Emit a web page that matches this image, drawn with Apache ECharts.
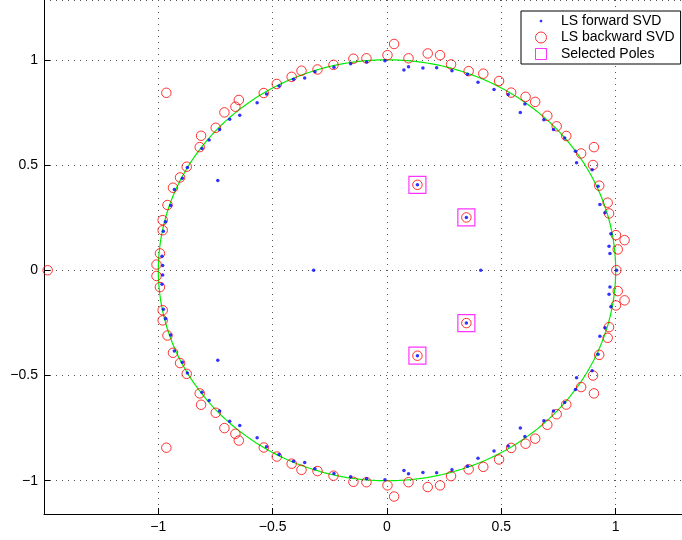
<!DOCTYPE html>
<html><head><meta charset="utf-8">
<script src="https://cdn.jsdelivr.net/npm/echarts@6/dist/echarts.min.js"></script>
<style>html,body{margin:0;padding:0;background:#fff}#c{width:682px;height:540px}</style>
</head><body><div id="c"></div>
<script>
const forwardUpper = [
  [0.975,0.080],[0.971,0.114],[0.979,0.173],[0.953,0.273],[0.931,0.313],[0.923,0.399],[0.897,0.478],
  [0.829,0.511],[0.824,0.566],[0.777,0.628],[0.728,0.669],[0.686,0.715],[0.603,0.790],[0.583,0.750],
  [0.530,0.835],[0.468,0.859],[0.398,0.893],[0.352,0.931],[0.284,0.948],[0.217,0.962],[0.157,0.961],
  [0.094,0.967],[0.074,0.951],[-0.009,0.995],[-0.089,0.990],[-0.159,0.981],[-0.232,0.965],[-0.315,0.943],
  [-0.360,0.913],[-0.409,0.907],[-0.472,0.875],[-0.527,0.838],[-0.568,0.796],[-0.644,0.737],[-0.688,0.717],
  [-0.732,0.669],[-0.778,0.619],[-0.809,0.579],[-0.873,0.488],[-0.895,0.437],[-0.930,0.384],[-0.946,0.308],
  [-0.969,0.230],[-0.978,0.185],[-0.984,0.067],[-0.981,0.023],[-0.740,0.427]
];
const forwardLower = [
  [0.975,-0.080],[0.971,-0.114],[0.979,-0.173],[0.953,-0.273],[0.931,-0.313],[0.923,-0.399],[0.897,-0.478],
  [0.829,-0.511],[0.824,-0.566],[0.777,-0.628],[0.728,-0.669],[0.686,-0.715],[0.603,-0.790],[0.583,-0.750],
  [0.530,-0.835],[0.468,-0.859],[0.398,-0.893],[0.352,-0.931],[0.284,-0.948],[0.217,-0.962],[0.157,-0.961],
  [0.094,-0.967],[0.074,-0.951],[-0.009,-0.995],[-0.089,-0.990],[-0.159,-0.981],[-0.232,-0.965],[-0.315,-0.943],
  [-0.360,-0.913],[-0.409,-0.907],[-0.472,-0.875],[-0.527,-0.838],[-0.568,-0.796],[-0.644,-0.737],[-0.688,-0.717],
  [-0.732,-0.669],[-0.778,-0.619],[-0.809,-0.579],[-0.873,-0.488],[-0.895,-0.437],[-0.930,-0.384],[-0.946,-0.308],
  [-0.969,-0.230],[-0.978,-0.185],[-0.984,-0.067],[-0.981,-0.023],[-0.740,-0.427]
];
const forwardReal = [[1.004,0],[-0.321,0],[0.410,0]];

const backwardUpper = [
  [1.009,0.099],[1.039,0.143],[1.001,0.167],[0.971,0.270],[0.965,0.321],[0.928,0.402],[0.901,0.500],
  [0.905,0.585],[0.849,0.555],[0.784,0.638],[0.742,0.684],[0.701,0.734],[0.648,0.800],[0.606,0.824],
  [0.543,0.844],[0.490,0.899],[0.421,0.934],[0.357,0.946],[0.280,0.978],[0.232,1.022],[0.178,1.030],
  [0.094,1.007],[0.031,1.075],[0.002,1.022],[-0.090,1.007],[-0.147,1.005],[-0.234,0.976],[-0.304,0.954],
  [-0.374,0.948],[-0.417,0.919],[-0.482,0.885],[-0.539,0.842],[-0.648,0.809],[-0.663,0.777],[-0.711,0.750],
  [-0.749,0.677],[-0.813,0.639],[-0.819,0.585],[-0.876,0.492],[-0.905,0.441],[-0.936,0.392],[-0.960,0.310],
  [-0.981,0.238],[-0.981,0.190],[-0.993,0.080],[-1.008,0.027],[-0.965,0.843]
];
const backwardLower = [
  [1.009,-0.099],[1.039,-0.143],[1.001,-0.167],[0.971,-0.270],[0.965,-0.321],[0.928,-0.402],[0.901,-0.500],
  [0.905,-0.585],[0.849,-0.555],[0.784,-0.638],[0.742,-0.684],[0.701,-0.734],[0.648,-0.800],[0.606,-0.824],
  [0.543,-0.844],[0.490,-0.899],[0.421,-0.934],[0.357,-0.946],[0.280,-0.978],[0.232,-1.022],[0.178,-1.030],
  [0.094,-1.007],[0.031,-1.075],[0.002,-1.022],[-0.090,-1.007],[-0.147,-1.005],[-0.234,-0.976],[-0.304,-0.954],
  [-0.374,-0.948],[-0.417,-0.919],[-0.482,-0.885],[-0.539,-0.842],[-0.648,-0.809],[-0.663,-0.777],[-0.711,-0.750],
  [-0.749,-0.677],[-0.813,-0.639],[-0.819,-0.585],[-0.876,-0.492],[-0.905,-0.441],[-0.936,-0.392],[-0.960,-0.310],
  [-0.981,-0.238],[-0.981,-0.190],[-0.993,-0.080],[-1.008,-0.027],[-0.965,-0.843]
];
const backwardReal = [[1.003,0],[-1.484,0]];

const selectedPoles = [[0.133,0.406],[0.133,-0.406],[0.347,0.251],[0.347,-0.251]];

const seriesNames = ['LS forward SVD','LS backward SVD','Selected Poles'];

// unit circle reference (exact geometric curve)
const unitCircleSteps = 360;
const unitCircle = [];
for (let k = 0; k <= unitCircleSteps; k++) {
  const t = 2 * Math.PI * k / unitCircleSteps;
  unitCircle.push([Math.cos(t), Math.sin(t)]);
}

const FONT = "'Liberation Sans', Arial, Helvetica, sans-serif";
const fmt = v => (v < 0 ? '\u2212' : '') + String(Math.abs(v));
const dotted = {show:true, lineStyle:{color:'#555', width:1, type:[1,5]}};

const chart = echarts.init(document.getElementById('c'), null, {renderer:'canvas'});
chart.setOption({
  animation:false,
  backgroundColor:'#fff',
  grid:{left:44, right:0, top:0, bottom:26},
  xAxis:{
    type:'value', min:-1.5, max:1.29, splitNumber:5,
    axisLine:{onZero:false, lineStyle:{color:'#000', width:1}},
    axisTick:{inside:true, length:6, lineStyle:{color:'#000'}},
    axisLabel:{color:'#000', fontFamily:FONT, fontSize:14, margin:6, showMinLabel:false, showMaxLabel:false, formatter:fmt},
    splitLine:dotted
  },
  yAxis:{
    type:'value', min:-1.158, max:1.284, splitNumber:5,
    axisLine:{show:true, onZero:false, lineStyle:{color:'#000', width:1}},
    axisTick:{show:true, inside:true, length:6, lineStyle:{color:'#000'}},
    axisLabel:{color:'#000', fontFamily:FONT, fontSize:14, margin:6, showMinLabel:false, showMaxLabel:false, formatter:fmt},
    splitLine:dotted
  },
  legend:{
    orient:'vertical', left:521, top:11, padding:[2,6,2,14], itemGap:0.5,
    itemWidth:30, itemHeight:11,
    borderColor:'#000', borderWidth:1, backgroundColor:'#fff',
    textStyle:{fontFamily:FONT, fontSize:14, color:'#000', lineHeight:16},
    data:[
      {name:seriesNames[0], icon:'path://M0,0M12,12M4.5,6a1.5,1.5 0 1,0 3,0a1.5,1.5 0 1,0 -3,0', itemStyle:{color:'#0000ff'}},
      {name:seriesNames[1], icon:'circle', itemStyle:{color:'rgba(0,0,0,0)', borderColor:'#ff0000', borderWidth:1}},
      {name:seriesNames[2], icon:'path://M0,0L10,0L10,10L0,10Z', itemStyle:{color:'rgba(0,0,0,0)', borderColor:'#ff00ff', borderWidth:1}}
    ]
  },
  series:[
    {type:'line', name:'unit circle', data:unitCircle, showSymbol:false, symbol:'none',
     lineStyle:{color:'#00ee00', width:1.2}, z:1, silent:true},
    {type:'scatter', name:seriesNames[1], data:backwardUpper.concat(backwardLower, backwardReal, selectedPoles),
     symbol:'circle', symbolSize:9.5,
     itemStyle:{color:'rgba(0,0,0,0)', borderColor:'#ff0000', borderWidth:1}, z:2, silent:true},
    {type:'scatter', name:seriesNames[0], data:forwardUpper.concat(forwardLower, forwardReal, selectedPoles),
     symbol:'circle', symbolSize:3.5, itemStyle:{color:'#0000ff'}, z:3, silent:true},
    {type:'scatter', name:seriesNames[2], data:selectedPoles,
     symbol:'rect', symbolSize:17,
     itemStyle:{color:'rgba(0,0,0,0)', borderColor:'#ff00ff', borderWidth:1.2}, z:4, silent:true}
  ]
});
</script></body></html>
